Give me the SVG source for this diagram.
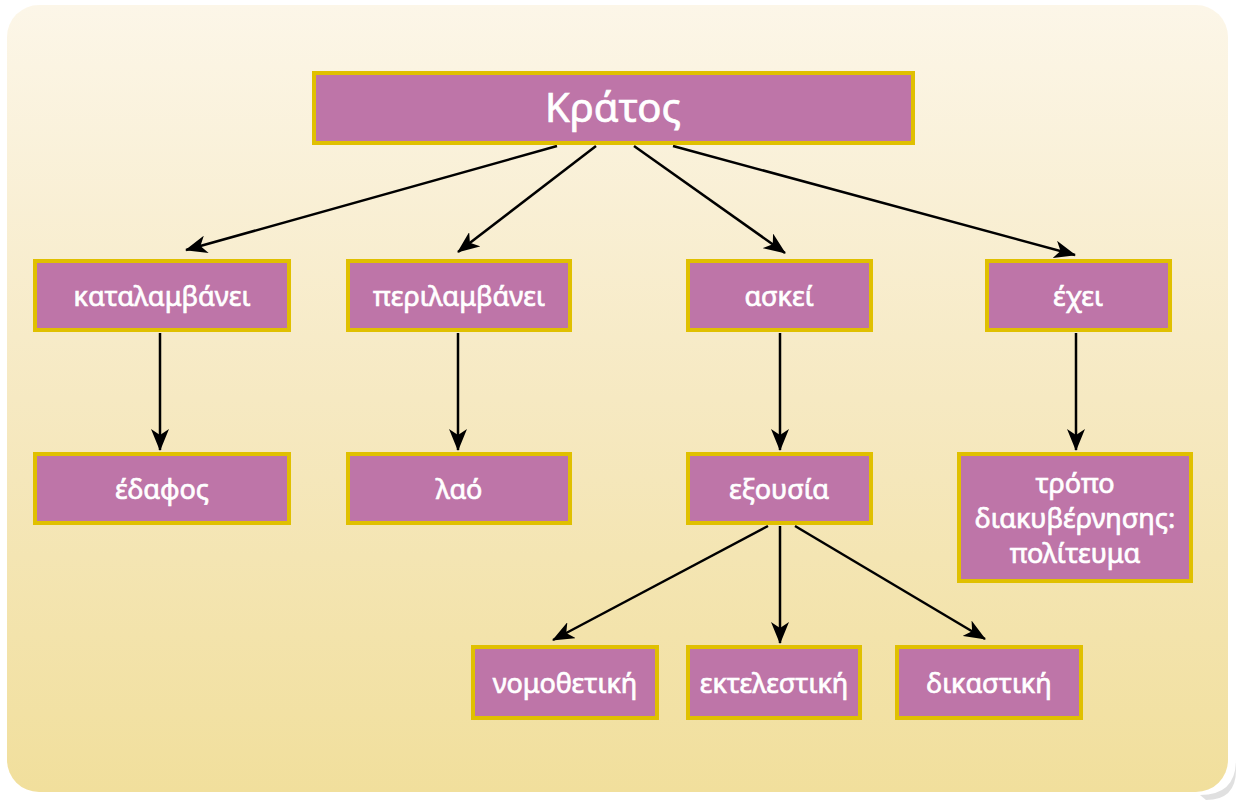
<svg xmlns="http://www.w3.org/2000/svg" width="1241" height="800" viewBox="0 0 1241 800">
<defs>
<linearGradient id="bg" x1="0" y1="0" x2="0" y2="1">
<stop offset="0" stop-color="#fcf6e8"/>
<stop offset="0.5" stop-color="#f6e9c2"/>
<stop offset="1" stop-color="#f1df9c"/>
</linearGradient>
<marker id="ah" markerUnits="userSpaceOnUse" markerWidth="22" markerHeight="18" viewBox="0 0 22 18" refX="21" refY="9" orient="auto">
<path d="M0,0 L22,9 L0,18 L6,9 z" fill="#000"/>
</marker>
<style>
.box{fill:#be75a8;stroke:#e0c000;stroke-width:4}
.t{fill:#fff;stroke:#fff;stroke-width:0.7;font-family:"Noto Sans","Open Sans",sans-serif;font-size:27px;text-anchor:middle;dominant-baseline:central}
.c{stroke:#000;stroke-width:2.5;fill:none;marker-end:url(#ah)}
</style>
</defs>
<rect width="1241" height="800" fill="#fff"/>
<path d="M1200,795 Q1236,795 1236,760 L1236,770 Q1236,800 1206,800 Z" fill="#ccc" opacity="0.6"/>
<rect x="7" y="5" width="1221" height="787" rx="32" fill="url(#bg)"/>
<g id="connectors">
<line class="c" x1="557" y1="146" x2="186" y2="250"/>
<line class="c" x1="596" y1="146" x2="458" y2="252"/>
<line class="c" x1="634" y1="146" x2="785" y2="253"/>
<line class="c" x1="673" y1="146" x2="1075" y2="255"/>
<line class="c" x1="160" y1="333" x2="160" y2="450"/>
<line class="c" x1="458" y1="333" x2="458" y2="450"/>
<line class="c" x1="780" y1="333" x2="780" y2="450"/>
<line class="c" x1="1076" y1="333" x2="1076" y2="450"/>
<line class="c" x1="768" y1="526" x2="553" y2="640"/>
<line class="c" x1="780" y1="526" x2="780" y2="643"/>
<line class="c" x1="795" y1="526" x2="985" y2="639"/>
</g>
<g id="kratos"><rect class="box" x="314" y="73" width="599" height="70"/><text class="t" x="613" y="106" style="font-size:40px">Κράτος</text></g>
<g id="katalamvanei"><rect class="box" x="35" y="261" width="254" height="69"/><text class="t" x="162" y="295">καταλαμβάνει</text></g>
<g id="perilamvanei"><rect class="box" x="348" y="261" width="222" height="69"/><text class="t" x="459" y="295">περιλαμβάνει</text></g>
<g id="askei"><rect class="box" x="688" y="261" width="183" height="69"/><text class="t" x="779" y="295">ασκεί</text></g>
<g id="echei"><rect class="box" x="987" y="261" width="183" height="69"/><text class="t" x="1078" y="295">έχει</text></g>
<g id="edafos"><rect class="box" x="35" y="454" width="254" height="69"/><text class="t" x="162" y="488">έδαφος</text></g>
<g id="lao"><rect class="box" x="348" y="454" width="222" height="69"/><text class="t" x="459" y="488">λαό</text></g>
<g id="exousia"><rect class="box" x="688" y="454" width="183" height="69"/><text class="t" x="779" y="488">εξουσία</text></g>
<g id="tropo"><rect class="box" x="959" y="454" width="232" height="127"/><text class="t" x="1075" y="482">τρόπο</text><text class="t" x="1075" y="517">διακυβέρνησης:</text><text class="t" x="1075" y="552">πολίτευμα</text></g>
<g id="nomothetiki"><rect class="box" x="473" y="647" width="184" height="71"/><text class="t" x="565" y="682">νομοθετική</text></g>
<g id="ektelestiki"><rect class="box" x="688" y="647" width="172" height="71"/><text class="t" x="774" y="682">εκτελεστική</text></g>
<g id="dikastiki"><rect class="box" x="897" y="647" width="184" height="71"/><text class="t" x="989" y="682">δικαστική</text></g>
</svg>
